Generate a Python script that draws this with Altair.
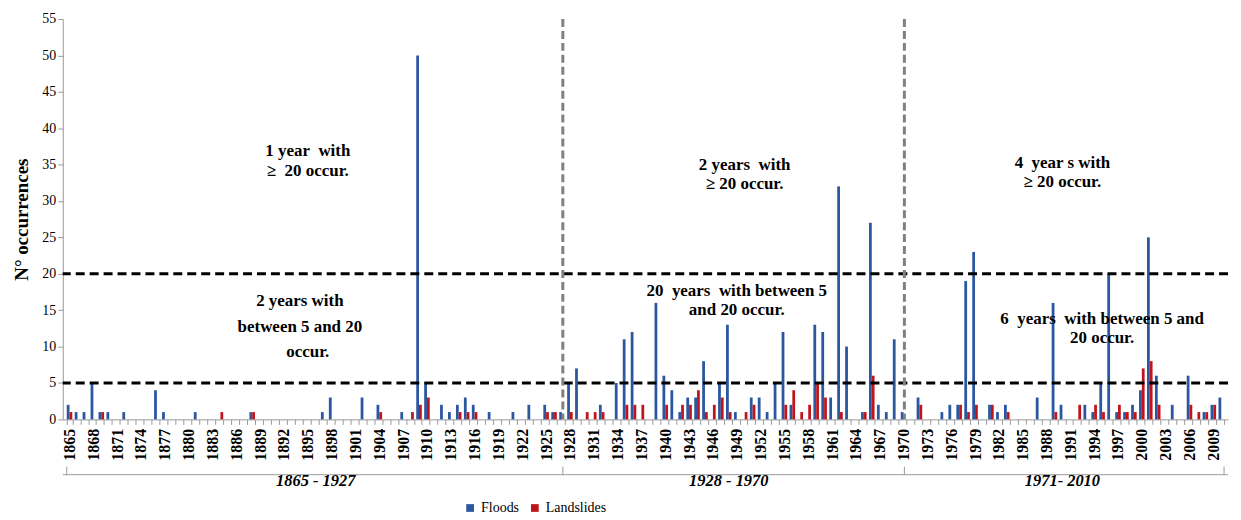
import altair as alt
import pandas as pd

years = list(range(1865, 2011))

floods = (
    [2, 1, 1, 5, 1]                              # 1865-1869
    + [1, 0, 1, 0, 0, 0, 4, 1, 0, 0]             # 1870s
    + [0, 1, 0, 0, 0, 0, 0, 0, 1, 0]             # 1880s
    + [0, 0, 0, 0, 0, 0, 0, 1, 3, 0]             # 1890s
    + [0, 0, 3, 0, 2, 0, 0, 1, 0, 50]            # 1900s
    + [5, 0, 2, 1, 2, 3, 2, 0, 1, 0]             # 1910s
    + [0, 1, 0, 2, 0, 2, 1, 1, 5, 7]             # 1920s
    + [0, 0, 2, 0, 5, 11, 12, 0, 0, 16]          # 1930s
    + [6, 4, 1, 3, 3, 8, 0, 5, 13, 1]            # 1940s
    + [0, 3, 3, 1, 5, 12, 2, 0, 0, 13]           # 1950s
    + [12, 3, 32, 10, 0, 1, 27, 2, 1, 11]        # 1960s
    + [1, 0, 3, 0, 0, 1, 2, 2, 19, 23]           # 1970s
    + [0, 2, 1, 2, 0, 0, 0, 3, 0, 16]            # 1980s
    + [2, 0, 0, 2, 1, 5, 20, 1, 1, 2]            # 1990s
    + [4, 25, 6, 0, 2, 0, 6, 0, 1, 2, 3]         # 2000-2010
)

landslides = (
    [1, 0, 0, 0, 1]                              # 1865-1869
    + [0, 0, 0, 0, 0, 0, 0, 0, 0, 0]             # 1870s
    + [0, 0, 0, 0, 1, 0, 0, 0, 1, 0]             # 1880s
    + [0, 0, 0, 0, 0, 0, 0, 0, 0, 0]             # 1890s
    + [0, 0, 0, 0, 1, 0, 0, 0, 1, 2]             # 1900s
    + [3, 0, 0, 0, 1, 1, 1, 0, 0, 0]             # 1910s
    + [0, 0, 0, 0, 0, 1, 1, 0, 1, 0]             # 1920s
    + [1, 1, 1, 0, 0, 2, 2, 2, 0, 0]             # 1930s
    + [2, 0, 2, 2, 4, 1, 2, 3, 1, 0]             # 1940s
    + [1, 2, 0, 0, 0, 2, 4, 1, 2, 5]             # 1950s
    + [3, 0, 1, 0, 0, 1, 6, 0, 0, 0]             # 1960s
    + [0, 0, 2, 0, 0, 0, 0, 2, 1, 2]             # 1970s
    + [0, 2, 0, 1, 0, 0, 0, 0, 0, 1]             # 1980s
    + [0, 0, 2, 0, 2, 1, 0, 2, 1, 1]             # 1990s
    + [7, 8, 2, 0, 0, 0, 2, 1, 1, 2, 0]          # 2000-2010
)

series_names = ["Floods", "Landslides"]
series_colors = ["#2B56A0", "#C0141C"]
y_ticks = list(range(0, 56, 5))
thresholds = [5, 20]
split_years = [1927, 1970]

NB = "\u00a0"
annot_text = [
    "1 year" + NB + " with", "\u2265" + NB + " 20 occur.",
    "2 years with", "between 5 and 20", "occur.",
    "2 years" + NB + " with", "\u2265 20 occur.",
    "20" + NB + " years" + NB + " with between 5", "and 20 occur.",
    "4" + NB + " year s with", "\u2265 20 occur.",
    "6" + NB + " years" + NB + " with between 5 and", "20 occur.",
]
annot_year = [1895, 1895, 1894, 1894, 1895, 1950, 1950, 1949, 1949, 1990, 1990, 1995, 1995]
annot_value = [36.8, 34.1, 16.3, 12.7, 9.3, 35.0, 32.3, 17.6, 15.0, 35.2, 32.6, 13.8, 11.2]

period_labels = ["1865 - 1927", "1928 - 1970", "1971- 2010"]
period_label_years = [1896, 1948, 1990]
period_label_value = -8.5
bracket_value = -7.6
bracket_tick_top = -6.5

FONT = "Liberation Serif"

df = pd.DataFrame({
    "year": years * 2,
    "series": [series_names[0]] * len(years) + [series_names[1]] * len(years),
    "value": floods + landslides,
})
df = df[df["value"] > 0]

xscale = alt.Scale(domain=years, paddingInner=0.3, paddingOuter=0.5)
yscale = alt.Scale(domain=[0, 55], nice=False)

x_axis = alt.Axis(
    labelExpr="(datum.value - 1865) % 3 == 0 ? datum.value : ''",
    labelAngle=270,
    labelFont=FONT,
    labelFontWeight="bold",
    labelFontSize=16,
    labelColor="black",
    labelPadding=4,
    tickBand="extent",
    tickSize=5,
    tickColor="#999999",
    domainColor="#999999",
    labelOverlap=False,
)
y_axis = alt.Axis(
    values=y_ticks,
    tickCount=12,
    labelOverlap=False,
    grid=False,
    labelFont=FONT,
    labelFontSize=14,
    labelColor="black",
    tickSize=5,
    tickColor="#999999",
    domainColor="#999999",
    titleFont=FONT,
    titleFontSize=19,
    titleFontWeight="bold",
    titleColor="black",
    titlePadding=10,
)
Y_TITLE = "N\u00b0 occurrences"


def xenc(**kw):
    return alt.X("year:O", scale=xscale, title=None, axis=x_axis, **kw)


def yenc():
    return alt.Y("value:Q", scale=yscale, title=Y_TITLE, axis=y_axis)


bars = alt.Chart(df).mark_bar().encode(
    x=xenc(),
    xOffset=alt.XOffset("series:N", scale=alt.Scale(domain=series_names)),
    y=yenc(),
    color=alt.Color(
        "series:N",
        scale=alt.Scale(domain=series_names, range=series_colors),
        legend=alt.Legend(
            title=None,
            orient="none",
            direction="horizontal",
            legendX=402,
            legendY=484,
            symbolType="square",
            symbolSize=60,
            labelFont=FONT,
            labelFontSize=14,
            labelColor="black",
            columnPadding=8,
        ),
    ),
)

thr_df = pd.DataFrame({"value": thresholds})
hrules = alt.Chart(thr_df).mark_rule(
    color="black", strokeWidth=3, strokeDash=[9, 5]
).encode(y=yenc())

split_df = pd.DataFrame({"year": split_years})
vrules = alt.Chart(split_df).mark_rule(
    color="#808080", strokeWidth=3, strokeDash=[8, 4]
).encode(x=xenc(bandPosition=0.65))

annot_df = pd.DataFrame({"year": annot_year, "value": annot_value, "label": annot_text})
annots = alt.Chart(annot_df).mark_text(
    font=FONT, fontSize=17, fontWeight="bold", color="black", align="center", baseline="middle"
).encode(
    x=xenc(),
    y=yenc(),
    text="label:N",
)

bracket_df = pd.DataFrame({"value": [bracket_value]})
bracket = alt.Chart(bracket_df).mark_rule(color="#999999", strokeWidth=1).encode(
    y=yenc()
)

tick_df = pd.DataFrame({
    "year": [years[0], split_years[0], split_years[1], years[-1]],
    "pos": [0.0, 0.65, 0.65, 1.0],
    "value": [bracket_value] * 4,
    "value2": [bracket_tick_top] * 4,
})
bracket_ticks = []
for pos in sorted(set(tick_df["pos"])):
    bracket_ticks.append(
        alt.Chart(tick_df[tick_df["pos"] == pos]).mark_rule(color="#999999", strokeWidth=1).encode(
            x=xenc(bandPosition=pos),
            y=yenc(),
            y2="value2:Q",
        )
    )

period_df = pd.DataFrame({
    "year": period_label_years,
    "value": [period_label_value] * 3,
    "label": period_labels,
})
periods = alt.Chart(period_df).mark_text(
    font=FONT, fontSize=16.5, fontWeight="bold", fontStyle="italic", color="black",
    align="center", baseline="middle",
).encode(
    x=xenc(),
    y=yenc(),
    text="label:N",
)

chart = alt.layer(
    bars, hrules, vrules, annots, bracket, *bracket_ticks, periods
).properties(
    width=1170, height=402, padding={"left": 5, "top": 3, "right": 3, "bottom": 5}
).configure_view(stroke=None)

chart.save("out.html", embed_options={"renderer": "svg", "actions": False})
